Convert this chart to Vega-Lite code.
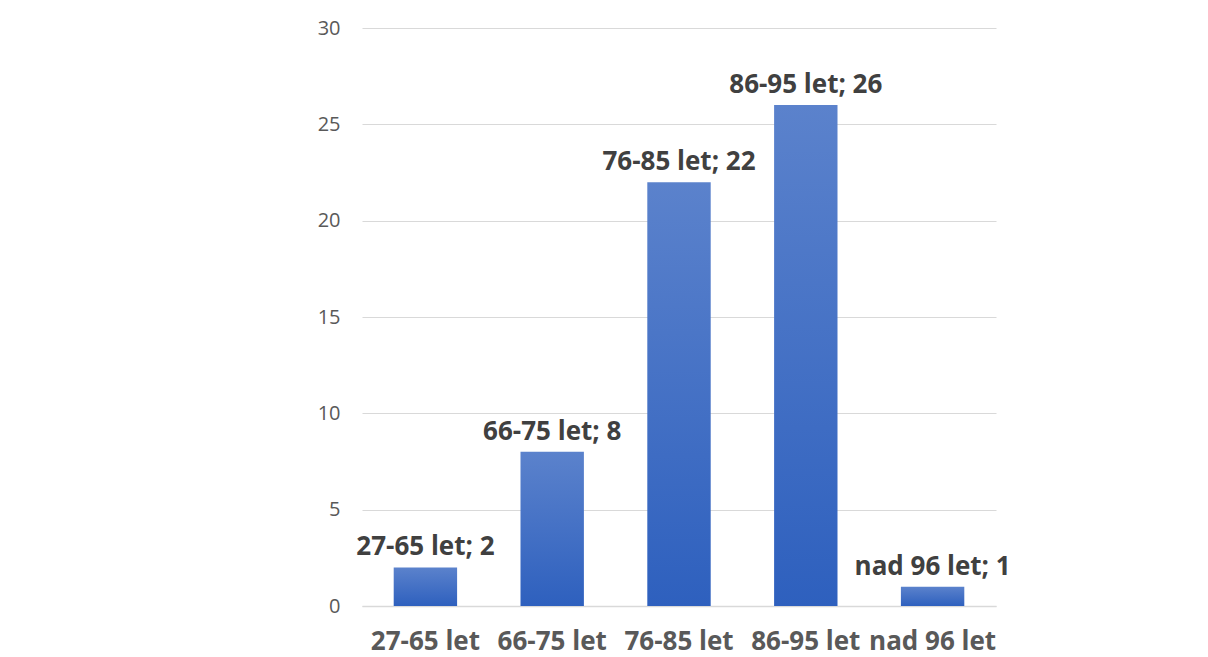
{
  "$schema": "https://vega.github.io/schema/vega-lite/v6.json",
  "width": 634,
  "height": 578,
  "autosize": {"type": "none"},
  "padding": {"left": 362, "top": 28, "right": 212, "bottom": 51},
  "background": "white",
  "config": {
    "view": {"stroke": null},
    "font": "Open Sans"
  },
  "data": {
    "values": [
      {"kat": "27-65 let", "n": 2},
      {"kat": "66-75 let", "n": 8},
      {"kat": "76-85 let", "n": 22},
      {"kat": "86-95 let", "n": 26},
      {"kat": "nad 96 let", "n": 1}
    ]
  },
  "encoding": {
    "x": {
      "field": "kat",
      "type": "nominal",
      "sort": null,
      "title": null,
      "scale": {"paddingInner": 0.5, "paddingOuter": 0.25},
      "axis": {
        "labelAngle": 0,
        "labelFont": "Open Sans",
        "labelFontSize": 26,
        "labelFontWeight": "bold",
        "labelColor": "#595959",
        "labelPadding": 22,
        "ticks": false,
        "domainColor": "#d9d9d9",
        "domainWidth": 1.5
      }
    },
    "y": {
      "field": "n",
      "type": "quantitative",
      "title": null,
      "scale": {"domain": [0, 30]},
      "axis": {
        "values": [0, 5, 10, 15, 20, 25, 30],
        "labelFont": "Open Sans",
        "labelFontSize": 20,
        "labelColor": "#595959",
        "labelPadding": 22,
        "ticks": false,
        "domain": false,
        "gridColor": "#d9d9d9",
        "gridWidth": 1
      }
    }
  },
  "layer": [
    {
      "mark": {
        "type": "bar",
        "fill": {
          "gradient": "linear",
          "x1": 0, "y1": 0, "x2": 0, "y2": 1,
          "stops": [
            {"offset": 0, "color": "#5b82cc"},
            {"offset": 1, "color": "#2e60be"}
          ]
        }
      }
    },
    {
      "mark": {
        "type": "text",
        "text": {"expr": "datum.kat + '; ' + datum.n"},
        "font": "Open Sans",
        "fontSize": 26,
        "fontWeight": "bold",
        "color": "#404040",
        "baseline": "alphabetic",
        "dy": -12
      }
    }
  ]
}
